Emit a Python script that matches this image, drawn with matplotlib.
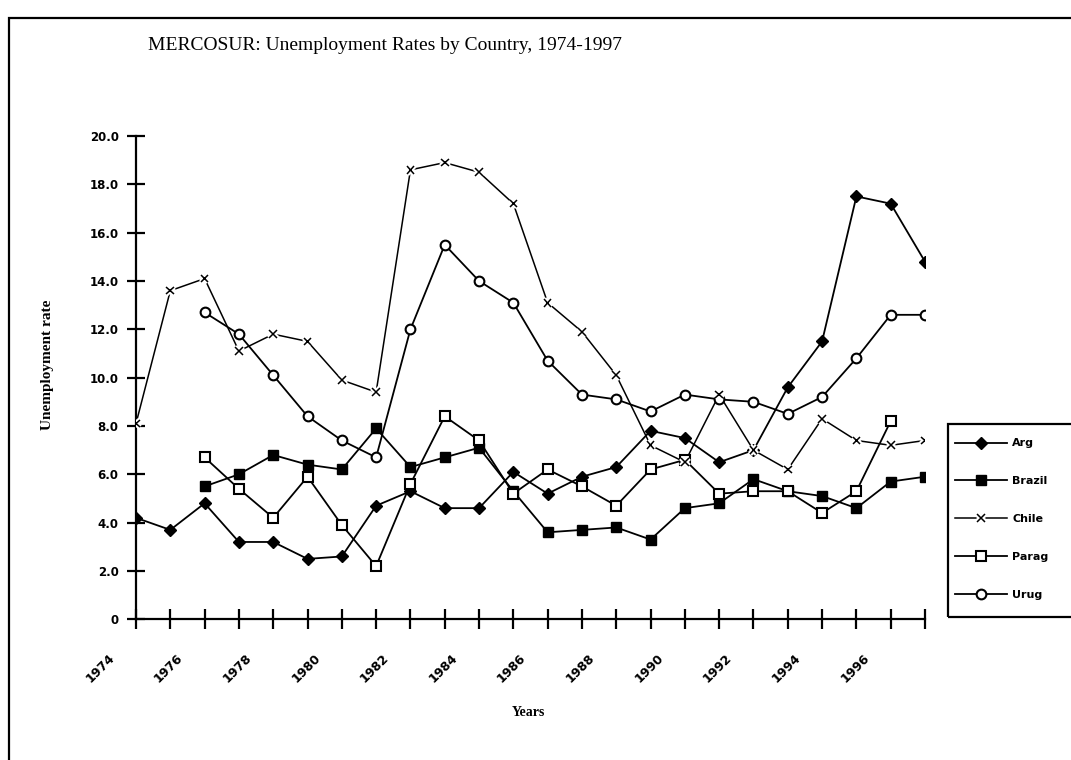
import numpy as np
import matplotlib
matplotlib.use("Agg")
import matplotlib.pyplot as plt
import matplotlib.patheffects as pe
import matplotlib.transforms as mtransforms
from matplotlib.patches import Rectangle
from matplotlib.lines import Line2D

nan = np.nan
years = list(range(1974, 1998))
arg = [4.2, 3.7, 4.8, 3.2, 3.2, 2.5, 2.6, 4.7, 5.3, 4.6, 4.6, 6.1,
       5.2, 5.9, 6.3, 7.8, 7.5, 6.5, 7.0, 9.6, 11.5, 17.5, 17.2, 14.8]
brazil = [nan, nan, 5.5, 6.0, 6.8, 6.4, 6.2, 7.9, 6.3, 6.7, 7.1, 5.3,
          3.6, 3.7, 3.8, 3.3, 4.6, 4.8, 5.8, 5.3, 5.1, 4.6, 5.7, 5.9]
chile = [8.1, 13.6, 14.1, 11.1, 11.8, 11.5, 9.9, 9.4, 18.6, 18.9, 18.5, 17.2,
         13.1, 11.9, 10.1, 7.2, 6.5, 9.3, 7.0, 6.2, 8.3, 7.4, 7.2, 7.4]
parag = [nan, nan, 6.7, 5.4, 4.2, 5.9, 3.9, 2.2, 5.6, 8.4, 7.4, 5.2,
         6.2, 5.5, 4.7, 6.2, 6.6, 5.2, 5.3, 5.3, 4.4, 5.3, 8.2, nan]
urug = [nan, nan, 12.7, 11.8, 10.1, 8.4, 7.4, 6.7, 12.0, 15.5, 14.0, 13.1,
        10.7, 9.3, 9.1, 8.6, 9.3, 9.1, 9.0, 8.5, 9.2, 10.8, 12.6, 12.6]
series_names = ["Arg", "Brazil", "Chile", "Parag", "Urug"]
x_tick_labels = [str(y) if (y % 2 == 0) else "" for y in years]
y_ticks = [0, 2, 4, 6, 8, 10, 12, 14, 16, 18, 20]
y_tick_labels = ["0", "2.0", "4.0", "6.0", "8.0", "10.0", "12.0", "14.0", "16.0", "18.0", "20.0"]
title = "MERCOSUR: Unemployment Rates by Country, 1974-1997"

W, H = 1071, 760
fig = plt.figure(figsize=(W / 100, H / 100), dpi=100)
fig.patch.set_facecolor("white")

def fx(px):
    return px / W

def fy(py):
    return 1 - py / H

ax = fig.add_axes([fx(136), fy(619.3), fx(925) - fx(136), fy(136) - fy(619.3)])
ax.set_facecolor("none")

halo = [pe.withStroke(linewidth=4, foreground="white")]
lw = 1.3
l_arg, = ax.plot(years, arg, color="black", lw=lw, marker="D", ms=6.5,
                 mfc="black", mec="black", zorder=3)
l_bra, = ax.plot(years, brazil, color="black", lw=lw, marker="s", ms=7.5,
                 mfc="black", mec="black", zorder=3)
l_chi_line, = ax.plot(years, chile, color="black", lw=1.1, zorder=3)
l_chi_mk, = ax.plot(years, chile, ls="none", color="black", marker="x", ms=5.5,
                    mew=1.1, zorder=3.5, path_effects=halo)
l_par, = ax.plot(years, parag, color="black", lw=lw, marker="s", ms=7.5,
                 mfc="white", mec="black", mew=1.5, zorder=3)
l_uru, = ax.plot(years, urug, color="black", lw=lw, marker="o", ms=7,
                 mfc="white", mec="black", mew=1.5, zorder=3)

ax.set_xlim(1974, 1997)
ax.set_ylim(0, 20)
for s in ["top", "right"]:
    ax.spines[s].set_visible(False)
for s in ["left", "bottom"]:
    ax.spines[s].set_linewidth(1.6)
ax.set_xticks(years)
ax.set_xticklabels(x_tick_labels, rotation=45, ha="right", va="top",
                   fontsize=9, fontweight="bold", family="DejaVu Sans")
ax.set_yticks(y_ticks)
ax.set_yticklabels(y_tick_labels, fontsize=8.5, fontweight="bold", family="DejaVu Sans")
ax.tick_params(axis="x", direction="inout", length=14, width=1.6, pad=16)
ax.tick_params(axis="y", direction="inout", length=13, width=1.6, pad=6)
off = mtransforms.ScaledTranslation(-19 / 100, 0, fig.dpi_scale_trans)
for lab in ax.get_xticklabels():
    lab.set_transform(lab.get_transform() + off)

fig.text(fx(148), fy(46), title, ha="left", va="center", fontsize=14,
         family="Liberation Serif")
fig.text(fx(47), fy(365), "Unemployment rate", rotation=90, ha="center",
         va="center", fontsize=11, family="Liberation Serif", fontweight="bold")
fig.text(fx(528), fy(713), "Years", ha="center", va="center", fontsize=10,
         family="Liberation Serif", fontweight="bold")

# outer frame and legend box
fig.patches.append(Rectangle((fx(9), fy(800)), fx(1100) - fx(9), fy(18) - fy(800),
                             transform=fig.transFigure, fill=False,
                             edgecolor="black", lw=1.6, clip_on=False))
fig.patches.append(Rectangle((fx(948), fy(617)), fx(1100) - fx(948), fy(424) - fy(617),
                             transform=fig.transFigure, fill=False,
                             edgecolor="black", lw=1.6, clip_on=False))

chile_handle = Line2D([], [], color="black", lw=1.1, marker="x", ms=5.5, mew=1.1,
                      path_effects=halo)
handles = [l_arg, l_bra, chile_handle, l_par, l_uru]
leg = fig.legend(handles, series_names, loc="upper left",
                 bbox_to_anchor=(fx(951), fy(434)), frameon=False,
                 handlelength=4.6, labelspacing=2.5,
                 handletextpad=0.5, borderaxespad=0,
                 prop={"family": "DejaVu Sans", "weight": "bold", "size": 8})

fig.savefig("out.png", dpi=100)
